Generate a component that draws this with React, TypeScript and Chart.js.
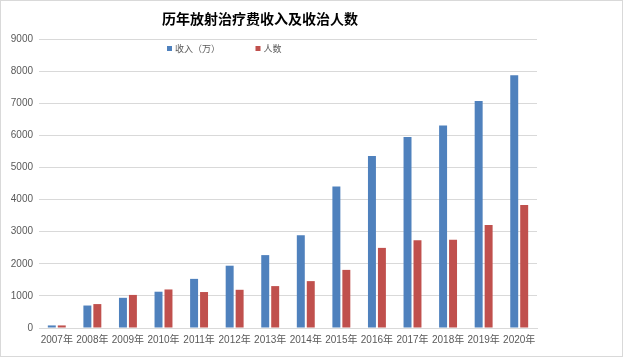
import React, { useEffect, useRef } from "react";
import { Chart, registerables } from "chart.js";

Chart.register(...registerables);

const TITLE = "历年放射治疗费收入及收治人数";
const categories = ["2007年", "2008年", "2009年", "2010年", "2011年", "2012年", "2013年", "2014年", "2015年", "2016年", "2017年", "2018年", "2019年", "2020年"];
const incomeLabel = "收入（万）";
const patientsLabel = "人数";
const income = [80, 700, 940, 1130, 1530, 1940, 2270, 2890, 4410, 5360, 5950, 6310, 7070, 7870];
const patients = [80, 745, 1030, 1200, 1120, 1190, 1305, 1460, 1810, 2495, 2730, 2750, 3210, 3830];
const yTicks = [0, 1000, 2000, 3000, 4000, 5000, 6000, 7000, 8000, 9000];

const BLUE = "#4f81bd";
const RED = "#c0504d";
const FONT = '"Liberation Sans", "Noto Sans CJK SC", sans-serif';
const CJK = '"Noto Sans CJK SC", "Liberation Sans", sans-serif';

const decorPlugin = {
  id: "decor",
  afterDraw(chart: any) {
    const ctx = chart.ctx;
    ctx.save();
    // outer border
    ctx.strokeStyle = "#d9d9d9";
    ctx.lineWidth = 1;
    ctx.strokeRect(0.5, 0.5, chart.width - 1, chart.height - 1);
    // title
    ctx.fillStyle = "#000000";
    ctx.font = "bold 14px " + CJK;
    ctx.textAlign = "center";
    ctx.textBaseline = "middle";
    ctx.fillText(TITLE, 260, 18.5);
    // legend
    ctx.font = "9px " + CJK;
    ctx.textAlign = "left";
    const ds = chart.data.datasets;
    const items = [
      { x: 167, color: ds[0].backgroundColor, text: ds[0].label },
      { x: 255.5, color: ds[1].backgroundColor, text: ds[1].label },
    ];
    for (const it of items) {
      ctx.fillStyle = it.color;
      ctx.fillRect(it.x, 46, 5, 5);
      ctx.fillStyle = "#595959";
      ctx.fillText(it.text, it.x + 8, 48.5);
    }
    ctx.restore();
  },
};

export default function App() {
  const ref = useRef<HTMLCanvasElement | null>(null);
  useEffect(() => {
    document.body.style.margin = "0";
    const canvas = ref.current!;
    const chart = new Chart(canvas, {
      type: "bar",
      data: {
        labels: categories,
        datasets: [
          { label: incomeLabel, data: income, backgroundColor: BLUE, barPercentage: 0.8, categoryPercentage: 0.56 },
          { label: patientsLabel, data: patients, backgroundColor: RED, barPercentage: 0.8, categoryPercentage: 0.56 },
        ],
      },
      options: {
        animation: false,
        responsive: false,
        maintainAspectRatio: false,
        devicePixelRatio: 1,
        layout: { padding: { left: 0, right: 86, top: 39, bottom: 0 } },
        plugins: {
          legend: { display: false },
          title: { display: false },
          tooltip: { enabled: false },
        },
        scales: {
          x: {
            grid: { display: false, drawTicks: false },
            border: { color: "#d9d9d9", width: 1 },
            ticks: {
              color: "#595959",
              font: { size: 10, family: FONT },
              padding: 6,
              autoSkip: false,
              maxRotation: 0,
            },
            afterFit: (s: any) => { s.height = 29; },
          },
          y: {
            min: 0,
            max: 9000,
            afterBuildTicks: (s: any) => { s.ticks = yTicks.map((v) => ({ value: v })); },
            grid: { color: "#d9d9d9", drawTicks: false },
            border: { display: false },
            ticks: {
              color: "#595959",
              font: { size: 10, family: FONT },
              padding: 6,
              callback: (v: any) => String(v),
            },
            afterFit: (s: any) => { s.width = 39; },
          },
        },
      },
      plugins: [decorPlugin],
    });
    return () => chart.destroy();
  }, []);
  return (
    <div style={{ width: 623, height: 357, background: "#fff" }}>
      <canvas ref={ref} width={623} height={357} style={{ display: "block", width: 623, height: 357 }} />
    </div>
  );
}
